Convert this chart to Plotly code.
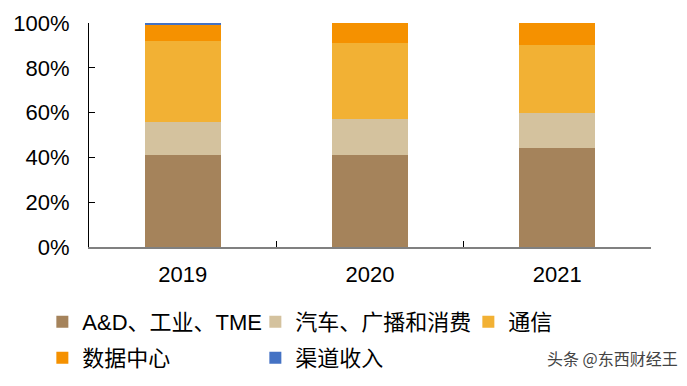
import plotly.graph_objects as go

years = ["2019", "2020", "2021"]
series_names = ["A&D、工业、TME", "汽车、广播和消费", "通信", "数据中心", "渠道收入"]
ad_industry_tme = [41, 41, 44]
auto_broadcast = [15, 16, 16]
communications = [36, 34, 30]
data_center = [7, 9, 10]
channel = [1, 0, 0]
colors = ["#A5835B", "#D4C29E", "#F2B134", "#F59100", "#4472C4"]
legend_ids = ["legend", "legend", "legend", "legend2", "legend2"]
y_ticks = [0, 20, 40, 60, 80, 100]
y_tick_text = ["0%", "20%", "40%", "60%", "80%", "100%"]

values = [ad_industry_tme, auto_broadcast, communications, data_center, channel]

fig = go.Figure()
for name, vals, col, lg in zip(series_names, values, colors, legend_ids):
    fig.add_trace(go.Bar(x=years, y=vals, name=name, marker_color=col,
                         marker_line_width=0, width=0.405, legend=lg))

font_stack = "Arial, Liberation Sans, Noto Sans CJK SC"
legend_common = dict(orientation="h", xanchor="left", xref="paper",
                     yanchor="middle", yref="paper",
                     entrywidth=168, entrywidthmode="pixels",
                     traceorder="normal", font=dict(size=22),
                     itemwidth=30, bgcolor="rgba(0,0,0,0)")
fig.update_layout(
    width=687, height=386,
    barmode="stack",
    bargap=0,
    plot_bgcolor="white", paper_bgcolor="white",
    margin=dict(l=89, r=36, t=23, b=139, autoexpand=False),
    font=dict(family=font_stack, color="black", size=20),
    showlegend=True,
    legend=dict(x=-0.083, y=-0.335, **legend_common),
    legend2=dict(x=-0.083, y=-0.495, **legend_common),
    xaxis=dict(showline=True, linecolor="#808080", linewidth=2,
               ticks="inside", tickson="boundaries", ticklen=6, tickcolor="black",
               tickfont=dict(size=22), showgrid=False, ticklabelstandoff=7),
    yaxis=dict(range=[0, 100], tickvals=y_ticks, ticktext=y_tick_text,
               showline=True, linecolor="black", linewidth=1,
               ticks="inside", ticklen=6, tickcolor="black",
               tickfont=dict(size=22), showgrid=False, zeroline=False,
               ticklabelstandoff=14),
    annotations=[dict(text="头条 @东西财经王", xref="paper", yref="paper",
                      x=1.0516, y=-0.4955, xanchor="right", yanchor="middle",
                      showarrow=False, font=dict(size=16, color="#444444",
                                                 family="Noto Sans CJK SC"))],
)

fig.write_html("out.html", config={"displayModeBar": False},
               post_script="document.body.style.margin='0px';")
